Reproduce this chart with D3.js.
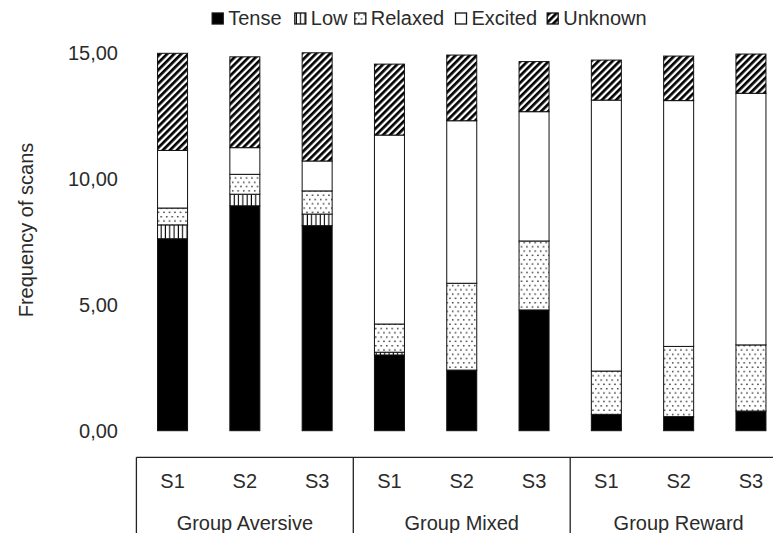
<!DOCTYPE html>
<html>
<head>
<meta charset="utf-8">
<script src="https://cdn.jsdelivr.net/npm/d3@7"></script>
<style>
  html, body { margin: 0; padding: 0; background: #fff; }
  svg { display: block; font-family: "Liberation Sans", Arial, sans-serif; }
</style>
</head>
<body>
<svg id="chart" width="773" height="533"></svg>
<script>
// Sessions within each group, and the groups themselves
const sessions = ["S1", "S2", "S3", "S1", "S2", "S3", "S1", "S2", "S3"];
const groups = ["Group Aversive", "Group Mixed", "Group Reward"];

// Mean frequency of scans per behavioural state
const tense   = [7.63, 8.94, 8.15, 3.01, 2.41, 4.80, 0.65, 0.56, 0.78];
const low     = [0.55, 0.46, 0.46, 0.11, 0.00, 0.00, 0.00, 0.00, 0.00];
const relaxed = [0.67, 0.79, 0.92, 1.12, 3.45, 2.74, 1.72, 2.79, 2.63];
const excited = [2.29, 1.06, 1.19, 7.51, 6.46, 5.14, 10.77, 9.77, 10.00];
const unknown = [3.86, 3.61, 4.30, 2.82, 2.61, 1.99, 1.59, 1.77, 1.56];

const seriesNames = ["Tense", "Low", "Relaxed", "Excited", "Unknown"];
const yTicks = [0, 5, 10, 15];

const seriesValues = [tense, low, relaxed, excited, unknown];
const rows = sessions.map((s, i) => {
  const r = { key: i };
  seriesNames.forEach((n, k) => { r[n] = seriesValues[k][i]; });
  return r;
});

const svg = d3.select("#chart");
const textColor = "#2b2b2b";

// Fill patterns
const defs = svg.append("defs");
const pLow = defs.append("pattern").attr("id", "pat-low")
  .attr("patternUnits", "userSpaceOnUse").attr("width", 4.3).attr("height", 4);
pLow.append("rect").attr("width", 4.3).attr("height", 4).attr("fill", "#fff");
pLow.append("rect").attr("x", 1.5).attr("width", 1.1).attr("height", 4).attr("fill", "#000");

const pRel = defs.append("pattern").attr("id", "pat-relaxed")
  .attr("patternUnits", "userSpaceOnUse").attr("width", 5.5).attr("height", 8.6);
pRel.append("rect").attr("width", 5.5).attr("height", 8.6).attr("fill", "#fff");
pRel.append("rect").attr("x", 1).attr("y", 1).attr("width", 1.4).attr("height", 1.4).attr("fill", "#222");
pRel.append("rect").attr("x", 3.8).attr("y", 5.3).attr("width", 1.4).attr("height", 1.4).attr("fill", "#222");

const pUnk = defs.append("pattern").attr("id", "pat-unknown")
  .attr("patternUnits", "userSpaceOnUse").attr("width", 5).attr("height", 5)
  .attr("patternTransform", "rotate(45)");
pUnk.append("rect").attr("width", 5).attr("height", 5).attr("fill", "#fff");
pUnk.append("rect").attr("width", 2.7).attr("height", 5).attr("fill", "#000");

const fills = {
  Tense: "#000",
  Low: "url(#pat-low)",
  Relaxed: "url(#pat-relaxed)",
  Excited: "#fff",
  Unknown: "url(#pat-unknown)"
};

// Scales
const x = d3.scaleBand()
  .domain(d3.range(sessions.length))
  .range([136.4, 136.4 + 72.3 * sessions.length])
  .paddingInner(0.585)
  .paddingOuter(0.2925);

const y = d3.scaleLinear().domain([0, 15]).range([430.7, 53.3]);

// Stacked bars
const stacked = d3.stack().keys(seriesNames)(rows);
svg.append("g").selectAll("g")
  .data(stacked)
  .join("g")
  .attr("fill", d => fills[d.key])
  .selectAll("rect")
  .data(d => d.filter(p => p[1] - p[0] > 0))
  .join("rect")
  .attr("x", d => x(d.data.key))
  .attr("width", x.bandwidth())
  .attr("y", d => y(d[1]))
  .attr("height", d => y(d[0]) - y(d[1]))
  .attr("stroke", "#111")
  .attr("stroke-width", 1);

// Y axis: labels only
const yAxis = svg.append("g")
  .attr("transform", "translate(118,0)")
  .call(d3.axisLeft(y).tickValues(yTicks).tickSize(0).tickPadding(0)
    .tickFormat(d => d3.format(".2f")(d).replace(".", ",")));
yAxis.select(".domain").remove();
yAxis.selectAll("text")
  .attr("fill", textColor)
  .attr("font-size", 20)
  .attr("font-family", "'Liberation Sans', Arial, sans-serif");

svg.append("text")
  .attr("transform", "translate(32.5,230) rotate(-90)")
  .attr("text-anchor", "middle")
  .attr("fill", textColor)
  .attr("font-size", 20)
  .text("Frequency of scans");

// Category axis: session labels and group brackets
const axisY = 457.3;
const left = x.range()[0];
const right = x.range()[1];
const groupW = (right - left) / groups.length;
const xAxis = svg.append("g");
xAxis.append("line")
  .attr("x1", left).attr("x2", right)
  .attr("y1", axisY).attr("y2", axisY)
  .attr("stroke", "#222").attr("stroke-width", 1.3);
xAxis.selectAll(".div")
  .data(d3.range(groups.length + 1))
  .join("line")
  .attr("x1", i => left + i * groupW).attr("x2", i => left + i * groupW)
  .attr("y1", axisY).attr("y2", 533)
  .attr("stroke", "#222").attr("stroke-width", 1.3);

xAxis.selectAll(".sess")
  .data(sessions)
  .join("text")
  .attr("x", (d, i) => x(i) + x.bandwidth() / 2)
  .attr("y", 487.7)
  .attr("text-anchor", "middle")
  .attr("fill", textColor)
  .attr("font-size", 20)
  .text(d => d);

xAxis.selectAll(".grp")
  .data(groups)
  .join("text")
  .attr("x", (d, i) => left + (i + 0.5) * groupW)
  .attr("y", 530)
  .attr("text-anchor", "middle")
  .attr("fill", textColor)
  .attr("font-size", 20)
  .text(d => d);

// Legend
const legendX = [211.7, 294.3, 354.3, 455, 546.7];
const legend = svg.append("g");
const li = legend.selectAll("g")
  .data(seriesNames)
  .join("g")
  .attr("transform", (d, i) => `translate(${legendX[i]},0)`);
li.append("rect")
  .attr("x", 0.5).attr("y", 13)
  .attr("width", 11).attr("height", 11)
  .attr("fill", d => fills[d])
  .attr("stroke", "#111").attr("stroke-width", 1.3);
li.append("text")
  .attr("x", 16.5)
  .attr("y", 25)
  .attr("fill", textColor)
  .attr("font-size", 20)
  .text(d => d);
</script>
</body>
</html>
